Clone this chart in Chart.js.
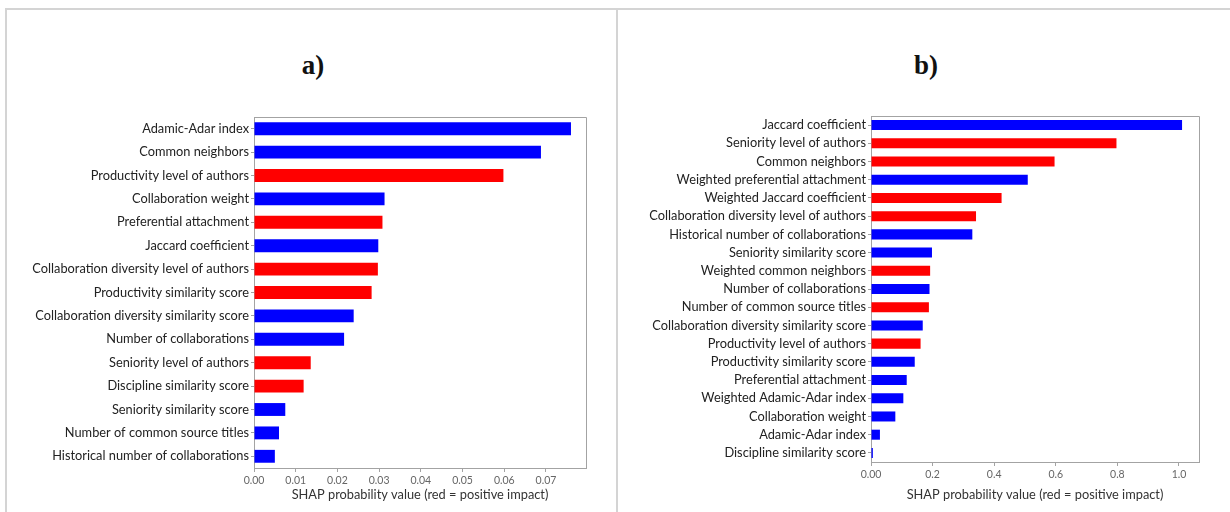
<!DOCTYPE html>
<html>
<head>
<meta charset="utf-8">
<script src="https://cdn.jsdelivr.net/npm/chart.js@4.4.1/dist/chart.umd.min.js"></script>
<style>
body { margin: 0; background: #fff; width: 1230px; height: 512px; overflow: hidden; position: relative; }
.panel { position: absolute; top: 8px; height: 504px; border-top: 2px solid #d4d4d4; border-left: 2px solid #d4d4d4; box-sizing: border-box; }
#panelA { left: 5px; width: 611px; }
#panelB { left: 616px; width: 614px; }
.tag { position: absolute; top: 50px; font: bold 27px "Liberation Serif", serif; color: #111; transform: translateX(-50%); }
canvas { position: absolute; top: 0; }
#chartA { left: 0; }
#chartB { left: 617px; }
</style>
</head>
<body>
<div class="panel" id="panelA"></div>
<div class="panel" id="panelB"></div>
<div class="tag" style="left:313px">a)</div>
<div class="tag" style="left:926px">b)</div>
<canvas id="chartA" width="610" height="512"></canvas>
<canvas id="chartB" width="613" height="512"></canvas>
<script>
const axisTitle = 'SHAP probability value (red = positive impact)'

// a) features, mean |SHAP| and whether the impact is positive
const featuresA = [
    'Adamic-Adar index', 'Common neighbors', 'Productivity level of authors',
    'Collaboration weight', 'Preferential attachment', 'Jaccard coefficient',
    'Collaboration diversity level of authors', 'Productivity similarity score',
    'Collaboration diversity similarity score', 'Number of collaborations',
    'Seniority level of authors', 'Discipline similarity score',
    'Seniority similarity score', 'Number of common source titles',
    'Historical number of collaborations'
]
const valuesA = [0.0760, 0.0688, 0.0598, 0.0313, 0.0308, 0.0298, 0.0297, 0.0282,
    0.0239, 0.0216, 0.0136, 0.0119, 0.0075, 0.0060, 0.0050]
const positiveA = [false, false, true, false, true, false, true, true,
    false, false, true, true, false, false, false]
const ticksA = ['0.00', '0.01', '0.02', '0.03', '0.04', '0.05', '0.06', '0.07']

// b) features
const featuresB = [
    'Jaccard coefficient', 'Seniority level of authors', 'Common neighbors',
    'Weighted preferential attachment', 'Weighted Jaccard coefficient',
    'Collaboration diversity level of authors', 'Historical number of collaborations',
    'Seniority similarity score', 'Weighted common neighbors', 'Number of collaborations',
    'Number of common source titles', 'Collaboration diversity similarity score',
    'Productivity level of authors', 'Productivity similarity score',
    'Preferential attachment', 'Weighted Adamic-Adar index', 'Collaboration weight',
    'Adamic-Adar index', 'Discipline similarity score'
]
const valuesB = [1.010, 0.797, 0.596, 0.509, 0.424, 0.341, 0.329, 0.198, 0.192, 0.190,
    0.188, 0.168, 0.161, 0.142, 0.116, 0.105, 0.079, 0.029, 0.006]
const positiveB = [false, true, true, false, true, true, false, false, true, false,
    true, false, true, false, false, false, false, false, false]
const ticksB = ['0.00', '0.2', '0.4', '0.6', '0.8', '1.0']

const frameColor = '#a3a3a3'

// close the plot box on the top and right like matplotlib spines
const boxPlugin = {
    id: 'box',
    afterDraw(chart){
        const {ctx, chartArea: a} = chart
        ctx.save()
        ctx.strokeStyle = frameColor
        ctx.lineWidth = 1
        ctx.beginPath()
        ctx.moveTo(a.left, a.top + 0.5)
        ctx.lineTo(a.right + 0.5, a.top + 0.5)
        ctx.lineTo(a.right + 0.5, a.bottom)
        ctx.stroke()
        ctx.restore()
    }
}

function drawPanel(id, features, values, positive, xMax, step, tickLabels, area){
    return new Chart(document.getElementById(id), {
        type: 'bar',
        data: {
            labels: features,
            datasets: [{
                data: values,
                backgroundColor: positive.map(p => p ? '#ff0000' : '#0000ff'),
                barPercentage: 0.55,
                categoryPercentage: 1
            }]
        },
        options: {
            indexAxis: 'y',
            responsive: false,
            animation: false,
            layout: { padding: { top: area.top, right: area.right, bottom: 0, left: 0 } },
            plugins: { legend: { display: false }, tooltip: { enabled: false } },
            scales: {
                x: {
                    min: 0,
                    max: xMax,
                    ticks: {
                        stepSize: step,
                        includeBounds: false,
                        autoSkip: false,
                        maxRotation: 0,
                        padding: 2,
                        color: '#666',
                        font: { family: 'Lato', size: 10.5 },
                        callback: (v, i) => tickLabels[i]
                    },
                    grid: { drawOnChartArea: false, tickLength: 4, color: frameColor },
                    border: { color: frameColor },
                    title: {
                        display: true,
                        text: axisTitle,
                        color: '#333',
                        font: { family: 'Lato', size: 12.8 },
                        padding: { top: 2, bottom: 9 }
                    },
                    afterFit: s => { s.height = 512 - area.bottom }
                },
                y: {
                    ticks: {
                        autoSkip: false,
                        padding: 2,
                        color: '#222',
                        font: { family: 'Lato', size: 12.8 }
                    },
                    grid: { drawOnChartArea: false, offset: false, tickLength: 3, color: frameColor },
                    border: { color: frameColor },
                    afterFit: s => { s.width = area.left }
                }
            }
        },
        plugins: [boxPlugin]
    })
}

drawPanel('chartA', featuresA, valuesA, positiveA, 0.0796, 0.01, ticksA,
    { left: 254, right: 24, top: 117, bottom: 468 })
drawPanel('chartB', featuresB, valuesB, positiveB, 1.065, 0.2, ticksB,
    { left: 254, right: 31, top: 116, bottom: 462 })
</script>
</body>
</html>
